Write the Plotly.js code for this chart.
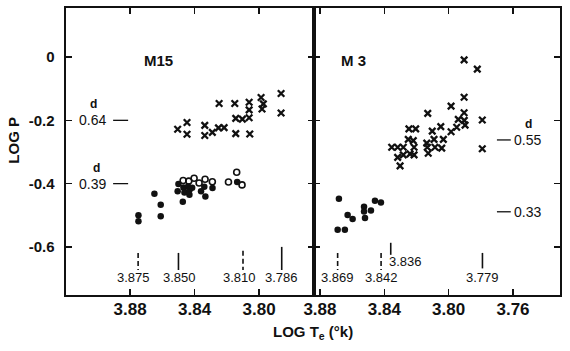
<!DOCTYPE html>
<html>
<head>
<meta charset="utf-8">
<script src="https://cdn.plot.ly/plotly-3.0.1.min.js"></script>
<style>html,body{margin:0;padding:0;background:#fff;}#chart{width:570px;height:351px;}</style>
</head>
<body>
<div id="chart"></div>
<script>
// ---------- DATA ----------
// M15 panel
const m15CrossT = [3.8505,3.8447,3.8447,3.8337,3.8337,3.8290,3.8248,3.8252,3.8217,3.8151,3.8145,3.8145,3.8104,3.8062,3.8062,3.8062,3.8058,3.7988,3.7982,3.7974,3.7864,3.7864];
const m15CrossP = [-0.228,-0.207,-0.244,-0.216,-0.248,-0.238,-0.147,-0.224,-0.223,-0.147,-0.194,-0.242,-0.196,-0.143,-0.167,-0.192,-0.243,-0.128,-0.164,-0.148,-0.115,-0.177];
const m15OpenT = [3.8471,3.8436,3.8403,3.8372,3.8335,3.8290,3.8190,3.8139,3.8106];
const m15OpenP = [-0.390,-0.392,-0.383,-0.398,-0.386,-0.394,-0.395,-0.364,-0.404];
const m15DotT = [3.8748,3.8748,3.8649,3.8610,3.8610,3.8500,3.8505,3.8473,3.8469,3.8463,3.8440,3.8432,3.8432,3.8415,3.8360,3.8333,3.8340,3.8289,3.8136];
const m15DotP = [-0.500,-0.519,-0.432,-0.467,-0.503,-0.401,-0.424,-0.457,-0.412,-0.428,-0.409,-0.420,-0.435,-0.413,-0.424,-0.441,-0.410,-0.414,-0.395];
// M3 panel
const m3CrossT = [3.7904,3.7822,3.7904,3.7985,3.8130,3.7904,3.7940,3.7903,3.7898,3.7791,3.8049,3.8247,3.8205,3.8102,3.7950,3.7985,3.8033,3.8251,3.8220,3.8091,3.8136,3.8354,3.8317,3.8282,3.8215,3.8133,3.8085,3.8043,3.7791,3.8317,3.8282,3.8240,3.8215,3.8127,3.8302];
const m3CrossP = [-0.009,-0.038,-0.127,-0.155,-0.178,-0.176,-0.197,-0.200,-0.215,-0.199,-0.220,-0.227,-0.227,-0.234,-0.222,-0.236,-0.260,-0.260,-0.264,-0.260,-0.272,-0.285,-0.285,-0.285,-0.285,-0.285,-0.285,-0.288,-0.290,-0.317,-0.309,-0.306,-0.309,-0.304,-0.344];
const m3DotT = [3.8682,3.8628,3.8597,3.8526,3.8526,3.8520,3.8483,3.8458,3.8421,3.8690,3.8645];
const m3DotP = [-0.448,-0.499,-0.512,-0.473,-0.488,-0.509,-0.485,-0.454,-0.460,-0.546,-0.546];
// Transition-edge markers (log Te) and their labels
const m15EdgeT = [3.875,3.850,3.810,3.786];
const m15EdgeLabel = ["3.875","3.850","3.810","3.786"];
const m15EdgeDashed = [true,false,true,false];
const m3EdgeT = [3.869,3.842,3.836,3.779];
const m3EdgeLabel = ["3.869","3.842","3.836","3.779"];
const m3EdgeDashed = [true,true,false,false];
// Period levels (log P) with their d values
const m15LevelP = [-0.20,-0.40];
const m15LevelLabel = ["0.64","0.39"];
const m3LevelP = [-0.262,-0.489];
const m3LevelLabel = ["0.55","0.33"];
// Tick values
const yTicks = [0,-0.2,-0.4,-0.6];
const yTickText = ["0","-0.2","-0.4","-0.6"];
const x1Ticks = [3.88,3.84,3.80];
const x2Ticks = [3.88,3.84,3.80,3.76];

// ---------- STYLE ----------
const INK = '#111';
const FONT = 'Liberation Sans, Arial, sans-serif';

function cross(x, y, xa) {
  return {x:x, y:y, xaxis:xa, yaxis:'y', type:'scatter', mode:'markers', hoverinfo:'skip', showlegend:false,
    marker:{symbol:'x-thin', size:6.5, color:INK, line:{width:2.3, color:INK}}};
}
function dots(x, y, xa) {
  return {x:x, y:y, xaxis:xa, yaxis:'y', type:'scatter', mode:'markers', hoverinfo:'skip', showlegend:false,
    marker:{symbol:'circle', size:6.5, color:INK}};
}
function opens(x, y, xa) {
  return {x:x, y:y, xaxis:xa, yaxis:'y', type:'scatter', mode:'markers', hoverinfo:'skip', showlegend:false,
    marker:{symbol:'circle-open', size:6, color:INK, line:{width:1.6, color:INK}}};
}

const traces = [
  cross(m15CrossT, m15CrossP, 'x'),
  opens(m15OpenT, m15OpenP, 'x'),
  dots(m15DotT, m15DotP, 'x'),
  cross(m3CrossT, m3CrossP, 'x2'),
  dots(m3DotT, m3DotP, 'x2')
];

const shapes = [];
const annotations = [];
const txt = (size, bold) => ({family:FONT, size:size, color:INK, weight: bold ? 'bold' : 'normal'});

// edge markers
const edgeTop = {'3.786':-0.600, '3.836':-0.587, '3.810':-0.612};
const edgeBot = {'3.836':-0.625, '3.779':-0.668};
function addEdges(ts, labels, dashed, xref) {
  ts.forEach((t, i) => {
    const top = edgeTop[labels[i]] !== undefined ? edgeTop[labels[i]] : -0.619;
    const bot = edgeBot[labels[i]] !== undefined ? edgeBot[labels[i]] : -0.673;
    shapes.push({type:'line', xref:xref, yref:'y', x0:t, x1:t, y0:top, y1:bot,
      line:{color:INK, width:1.6, dash: dashed[i] ? '5px,3px' : 'solid'}});
    if (labels[i] === '3.836') {
      annotations.push({xref:xref, yref:'y', x:t, y:-0.647, text:labels[i], showarrow:false,
        xanchor:'left', yanchor:'middle', xshift:-4, font:txt(13,false)});
    } else {
      const sh = {'3.875':-5,'3.810':-4,'3.850':1}[labels[i]] || 0;
      annotations.push({xref:xref, yref:'y', x:t, y:-0.697, text:labels[i], showarrow:false,
        xanchor:'center', yanchor:'middle', xshift:sh, font:txt(13,false)});
    }
  });
}
addEdges(m15EdgeT, m15EdgeLabel, m15EdgeDashed, 'x');
addEdges(m3EdgeT, m3EdgeLabel, m3EdgeDashed, 'x2');

// period levels, left panel
m15LevelP.forEach((p, i) => {
  shapes.push({type:'line', xref:'x', yref:'y', x0:3.8905, x1:3.8812, y0:p, y1:p, line:{color:INK, width:1.3}});
  annotations.push({xref:'x', yref:'y', x:3.8905, y:p, text:m15LevelLabel[i], showarrow:false,
    xanchor:'right', yanchor:'middle', xshift:-5, font:txt(14,false)});
  annotations.push({xref:'x', yref:'y', x:3.8905, y:p, text:'d', showarrow:false,
    xanchor:'center', yanchor:'middle', xshift:(i === 0 ? -20 : -17), yshift:16, font:txt(12,true)});
});
// period levels, right panel
m3LevelP.forEach((p, i) => {
  shapes.push({type:'line', xref:'x2', yref:'y', x0:3.7700, x1:3.7614, y0:p, y1:p, line:{color:INK, width:1.3}});
  annotations.push({xref:'x2', yref:'y', x:3.7614, y:p, text:m3LevelLabel[i], showarrow:false,
    xanchor:'left', yanchor:'middle', xshift:1, font:txt(14,false)});
  if (i === 0) {
    annotations.push({xref:'x2', yref:'y', x:3.7614, y:p, text:'d', showarrow:false,
      xanchor:'center', yanchor:'middle', xshift:18, yshift:16, font:txt(12,true)});
  }
});

// panel labels
annotations.push({xref:'x', yref:'y', x:3.8625, y:-0.012, text:'M15', showarrow:false,
  xanchor:'center', yanchor:'middle', font:txt(15,true)});
annotations.push({xref:'x2', yref:'y', x:3.8590, y:-0.012, text:'M 3', showarrow:false,
  xanchor:'center', yanchor:'middle', font:txt(15,true)});

// axis titles
annotations.push({xref:'paper', yref:'paper', x:0.5, y:-0.132, text:'LOG T<sub>e</sub> (°k)', showarrow:false,
  xanchor:'center', yanchor:'middle', font:txt(15,true)});
annotations.push({xref:'paper', yref:'paper', x:-0.108, y:0.54, text:'LOG P', showarrow:false, textangle:-90,
  xanchor:'center', yanchor:'middle', font:txt(15,true)});

const axisCommon = {
  showline:true, linecolor:INK, linewidth:2.4, mirror:'ticks', ticks:'inside', ticklen:6,
  tickwidth:1.5, tickcolor:INK, showgrid:false, zeroline:false, fixedrange:true
};

const layout = {
  width:570, height:351,
  margin:{l:66, r:10, t:8, b:56, pad:0},
  paper_bgcolor:'#fff', plot_bgcolor:'#fff',
  showlegend:false,
  xaxis: Object.assign({}, axisCommon, {domain:[0,0.502], range:[3.9197,3.766], anchor:'y',
    tickvals:x1Ticks, ticktext:x1Ticks.map(v=>v.toFixed(2)), ticklabelstandoff:-3,
    tickfont:txt(17,true)}),
  xaxis2: Object.assign({}, axisCommon, {domain:[0.502,1], range:[3.8837,3.7308], anchor:'y2',
    tickvals:x2Ticks, ticktext:x2Ticks.map(v=>v.toFixed(2)), ticklabelstandoff:-3,
    tickfont:txt(17,true)}),
  yaxis: Object.assign({}, axisCommon, {range:[-0.752,0.155], anchor:'x',
    tickvals:yTicks, ticktext:yTickText, ticklabelstandoff:6, tickfont:txt(15,true)}),
  yaxis2: Object.assign({}, axisCommon, {range:[-0.752,0.155], anchor:'x2', matches:'y',
    tickvals:yTicks, showticklabels:false}),
  shapes:shapes,
  annotations:annotations
};

// right panel shares the left y scale
traces.forEach(t => { if (t.xaxis === 'x2') t.yaxis = 'y2'; });
shapes.forEach(s => { if (s.xref === 'x2') s.yref = 'y2'; });
annotations.forEach(a => { if (a.xref === 'x2') a.yref = 'y2'; });

Plotly.newPlot('chart', traces, layout, {staticPlot:true, displayModeBar:false});
</script>
</body>
</html>
